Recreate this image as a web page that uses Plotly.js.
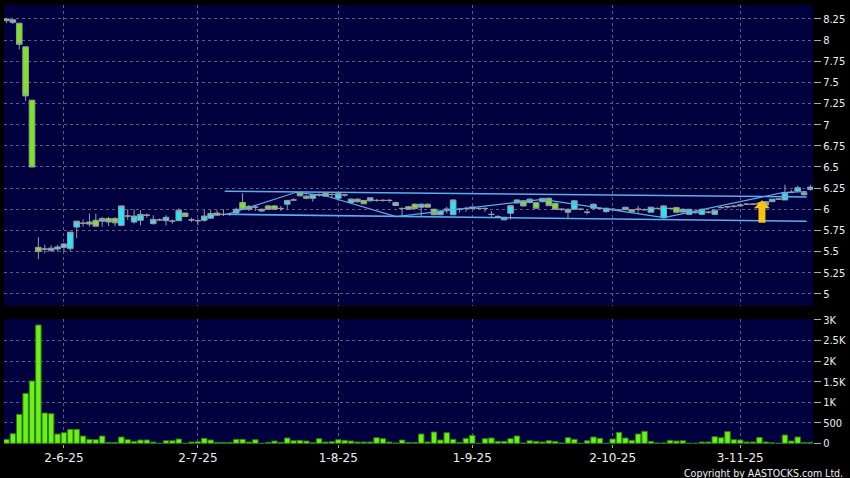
<!DOCTYPE html>
<html>
<head>
<meta charset="utf-8">
<script src="https://cdn.plot.ly/plotly-3.0.1.min.js"></script>
<style>
  html, body { margin: 0; padding: 0; background: #000000; }
  #chart { width: 850px; height: 478px; }
</style>
</head>
<body>
<div id="chart"></div>
<script>
// ---- Data (trading-day index based) ----
var openP = [8.25,8.21,8.20,7.92,7.29,5.55,5.53,5.515,5.53,5.55,5.535,5.79,5.835,5.85,5.87,5.86,5.89,5.89,5.81,5.92,
  5.85,5.87,5.93,5.83,5.875,5.865,5.86,5.865,5.955,5.875,5.865,5.87,5.895,5.955,5.94,5.94,5.955,6.08,6.035,6.025,
  6.00,6.04,6.04,6.01,6.06,6.11,6.20,6.155,6.13,6.17,6.19,6.175,6.13,6.17,6.08,6.12,6.105,6.10,6.105,6.105,
  6.105,6.045,6.01,6.03,6.06,6.025,6.06,6.00,5.935,6.00,5.935,6.00,6.01,6.008,6.01,6.01,5.94,5.915,5.875,5.953,
  6.075,6.10,6.08,6.078,6.09,6.13,6.07,6.00,5.965,6.00,6.00,5.965,6.012,6.01,5.972,6.00,5.99,5.995,5.995,6.00,
  5.995,5.965,6.01,5.90,6.01,6.02,5.968,5.94,5.97,5.94,5.965,5.94,6.02,6.03,6.035,6.04,6.06,6.06,6.06,6.05,
  6.09,6.12,6.11,6.20,6.215,6.172,6.235];
var highP = [8.26,8.25,8.20,7.92,7.29,5.67,5.58,5.575,5.58,5.60,5.73,5.86,5.88,5.95,5.95,5.91,5.91,5.91,6.04,6.00,
  6.00,5.99,5.95,5.93,5.89,5.93,5.88,6.01,5.96,5.90,5.89,5.99,5.99,5.99,6.00,5.96,6.02,6.19,6.05,6.05,
  6.01,6.05,6.05,6.04,6.11,6.13,6.20,6.17,6.18,6.19,6.20,6.19,6.20,6.18,6.13,6.13,6.11,6.14,6.12,6.12,
  6.12,6.09,6.02,6.04,6.07,6.07,6.07,6.01,5.99,6.03,6.12,6.01,6.03,6.03,6.02,6.02,5.98,5.93,5.91,6.05,
  6.12,6.11,6.13,6.09,6.13,6.14,6.08,6.01,6.01,6.11,6.01,5.99,6.07,6.02,6.02,6.01,6.00,6.03,6.00,6.04,
  6.01,6.03,6.02,6.05,6.02,6.03,6.01,6.00,5.98,6.01,5.98,5.99,6.04,6.04,6.05,6.06,6.07,6.07,6.08,6.09,
  6.12,6.13,6.29,6.23,6.28,6.21,6.29];
var lowP = [8.20,8.19,7.89,7.28,6.50,5.41,5.48,5.495,5.50,5.50,5.50,5.66,5.795,5.795,5.80,5.795,5.80,5.80,5.80,5.875,
  5.83,5.81,5.90,5.82,5.86,5.81,5.83,5.86,5.91,5.85,5.81,5.85,5.89,5.93,5.92,5.92,5.93,6.00,5.98,5.98,
  5.97,5.99,5.99,5.98,6.00,6.10,6.15,6.12,6.09,6.15,6.15,6.13,6.10,6.15,6.07,6.08,6.06,6.09,6.09,6.09,
  6.08,6.04,5.91,6.00,6.00,5.91,6.02,5.93,5.93,5.95,5.93,5.96,5.97,6.00,6.00,5.97,5.90,5.90,5.87,5.88,
  6.07,6.03,6.07,6.01,6.08,6.04,6.00,5.98,5.885,6.00,5.99,5.94,6.00,6.00,5.96,5.99,5.98,5.99,5.97,5.96,
  5.99,5.96,6.00,5.89,6.00,5.96,5.96,5.93,5.95,5.93,5.95,5.93,6.01,6.01,6.02,6.03,6.05,6.05,6.05,6.05,
  6.09,6.11,6.11,6.19,6.20,6.16,6.22];
var closeP = [8.23,8.24,7.95,7.34,6.50,5.50,5.53,5.54,5.555,5.59,5.73,5.86,5.835,5.825,5.80,5.89,5.85,5.84,6.04,5.92,
  5.92,5.94,5.93,5.88,5.875,5.905,5.86,5.99,5.915,5.875,5.865,5.92,5.95,5.93,5.94,5.94,6.00,6.00,6.00,6.025,
  5.98,6.00,6.00,6.01,6.105,6.11,6.16,6.13,6.175,6.17,6.155,6.175,6.185,6.17,6.12,6.09,6.065,6.135,6.105,6.105,
  6.105,6.08,6.01,6.00,6.01,6.06,6.025,5.935,5.98,6.00,6.11,6.00,6.01,6.027,6.01,6.01,5.94,5.915,5.905,6.043,
  6.11,6.04,6.12,6.012,6.13,6.043,6.00,6.00,6.00,6.10,6.00,5.965,6.06,6.01,6.012,6.00,5.99,6.024,5.97,6.00,
  5.995,6.024,6.01,6.04,6.01,5.965,6.00,6.00,5.96,6.00,5.965,5.99,6.02,6.03,6.035,6.05,6.06,6.06,6.07,6.09,
  6.12,6.12,6.195,6.20,6.255,6.196,6.262];
var volume = [97,235,705,1216,1516,2879,738,722,227,260,341,341,178,97,89,178,24,24,154,89,
  49,81,81,32,0,65,65,105,0,32,41,122,81,24,24,24,97,97,32,89,
  0,24,57,24,130,65,73,57,16,114,32,41,89,73,57,32,32,32,138,114,
  32,8,81,24,24,227,33,276,81,260,98,24,122,195,0,114,130,49,49,114,
  179,10,65,49,33,65,49,10,138,98,0,65,154,122,0,106,268,130,73,228,
  293,49,10,10,73,57,65,0,0,33,33,163,138,285,90,81,33,33,146,33,
  15,0,203,57,154,20,25];

// x tick labels (d-m-yy) and the trading-day index where each falls
var tickLabels = ['2-6-25','2-7-25','1-8-25','1-9-25','2-10-25','3-11-25'];
var tickIndex = [9, 30, 52, 73, 95, 115];

var priceTicks = [5,5.25,5.5,5.75,6,6.25,6.5,6.75,7,7.25,7.5,7.75,8,8.25];
var priceTickText = ['5','5.25','5.5','5.75','6','6.25','6.5','6.75','7','7.25','7.5','7.75','8','8.25'];
var volTicks = [0,500,1000,1500,2000,2500,3000];
var volTickText = ['0','500','1K','1.5K','2K','2.5K','3K'];

// trend lines (index, price)
var upperLineX = [34.2, 125.4];
var upperLineY = [6.213, 6.146];
var lowerLineX = [34.35, 125.4];
var lowerLineY = [5.941, 5.858];
var zigX = [34.66, 45.41, 49.84, 61.06, 84.0, 103.05, 121.6, 125.4];
var zigY = [5.941, 6.201, 6.163, 5.913, 6.118, 5.901, 6.196, 6.21];

var idx = openP.map(function(_, i){ return i; });

var gridCol = '#5c5c86';
var fontX = {family: 'DejaVu Sans, Verdana, sans-serif', size: 12, color: '#eeeeee'};
var fontY = {family: 'DejaVu Sans Condensed, Liberation Sans, Arial, sans-serif', size: 11, color: '#eeeeee'};

var traces = [
  {
    type: 'candlestick', x: idx, open: openP, high: highP, low: lowP, close: closeP,
    xaxis: 'x', yaxis: 'y',
    increasing: {line: {color: '#9a9aa6', width: 1}, fillcolor: '#2ae4f2'},
    decreasing: {line: {color: '#9a9aa6', width: 1}, fillcolor: '#7ee420'},
    whiskerwidth: 0, hoverinfo: 'skip', showlegend: false
  },
  {
    type: 'scatter', mode: 'lines', x: upperLineX, y: upperLineY, xaxis: 'x', yaxis: 'y',
    line: {color: '#5aaeea', width: 1.6}, hoverinfo: 'skip', showlegend: false
  },
  {
    type: 'scatter', mode: 'lines', x: lowerLineX, y: lowerLineY, xaxis: 'x', yaxis: 'y',
    line: {color: '#5aaeea', width: 1.6}, hoverinfo: 'skip', showlegend: false
  },
  {
    type: 'scatter', mode: 'lines', x: zigX, y: zigY, xaxis: 'x', yaxis: 'y',
    line: {color: '#5aaeea', width: 1.2}, hoverinfo: 'skip', showlegend: false
  },
  {
    type: 'bar', x: idx, y: volume, xaxis: 'x', yaxis: 'y2',
    marker: {color: '#6cf01a', line: {color: '#2c7a10', width: 1}},
    hoverinfo: 'skip', showlegend: false
  }
];

var layout = {
  width: 850, height: 478,
  margin: {l: 4, r: 37, t: 5, b: 34},
  paper_bgcolor: '#000000',
  plot_bgcolor: '#00003f',
  showlegend: false,
  boxgap: 0.12,
  boxgroupgap: 0,
  bargap: 0.14,
  xaxis: {
    anchor: 'y2', range: [-0.39, 126.4],
    tickvals: tickIndex, ticktext: tickLabels,
    showgrid: true, gridcolor: gridCol, griddash: '3px,3px', gridwidth: 1,
    zeroline: false, showline: false,
    ticks: 'outside', ticklen: 3, tickcolor: '#aaaaaa',
    tickfont: fontX,
    rangeslider: {visible: false}, fixedrange: true
  },
  yaxis: {
    domain: [0.315, 1], side: 'right', range: [4.86, 8.415],
    tickvals: priceTicks, ticktext: priceTickText,
    showgrid: true, gridcolor: gridCol, griddash: '3px,3px', gridwidth: 1,
    zeroline: false, showline: false,
    ticks: 'outside', ticklen: 7, tickcolor: '#aaaaaa',
    tickfont: fontY
  },
  yaxis2: {
    domain: [0, 0.284], side: 'right', range: [-16, 3016],
    tickvals: volTicks, ticktext: volTickText,
    showgrid: true, gridcolor: gridCol, griddash: '3px,3px', gridwidth: 1,
    zeroline: false, showline: false,
    ticks: 'outside', ticklen: 7, tickcolor: '#aaaaaa',
    tickfont: fontY
  },
  annotations: [
    {
      x: 118.4, y: 6.106, xref: 'x', yref: 'y',
      text: '', showarrow: true, ax: 0, ay: 24,
      arrowcolor: '#f4c414', arrowwidth: 7, arrowhead: 1, arrowsize: 0.38
    },
    {
      x: 1.039, y: -0.0655, xref: 'paper', yref: 'paper',
      xanchor: 'right', yanchor: 'middle', showarrow: false,
      text: 'Copyright by AASTOCKS.com Ltd.',
      font: {family: 'DejaVu Sans Condensed, Liberation Sans, Arial, sans-serif', size: 10.5, color: '#eeeeee'}
    }
  ]
};

Plotly.newPlot('chart', traces, layout, {staticPlot: true, displayModeBar: false});
</script>
</body>
</html>
